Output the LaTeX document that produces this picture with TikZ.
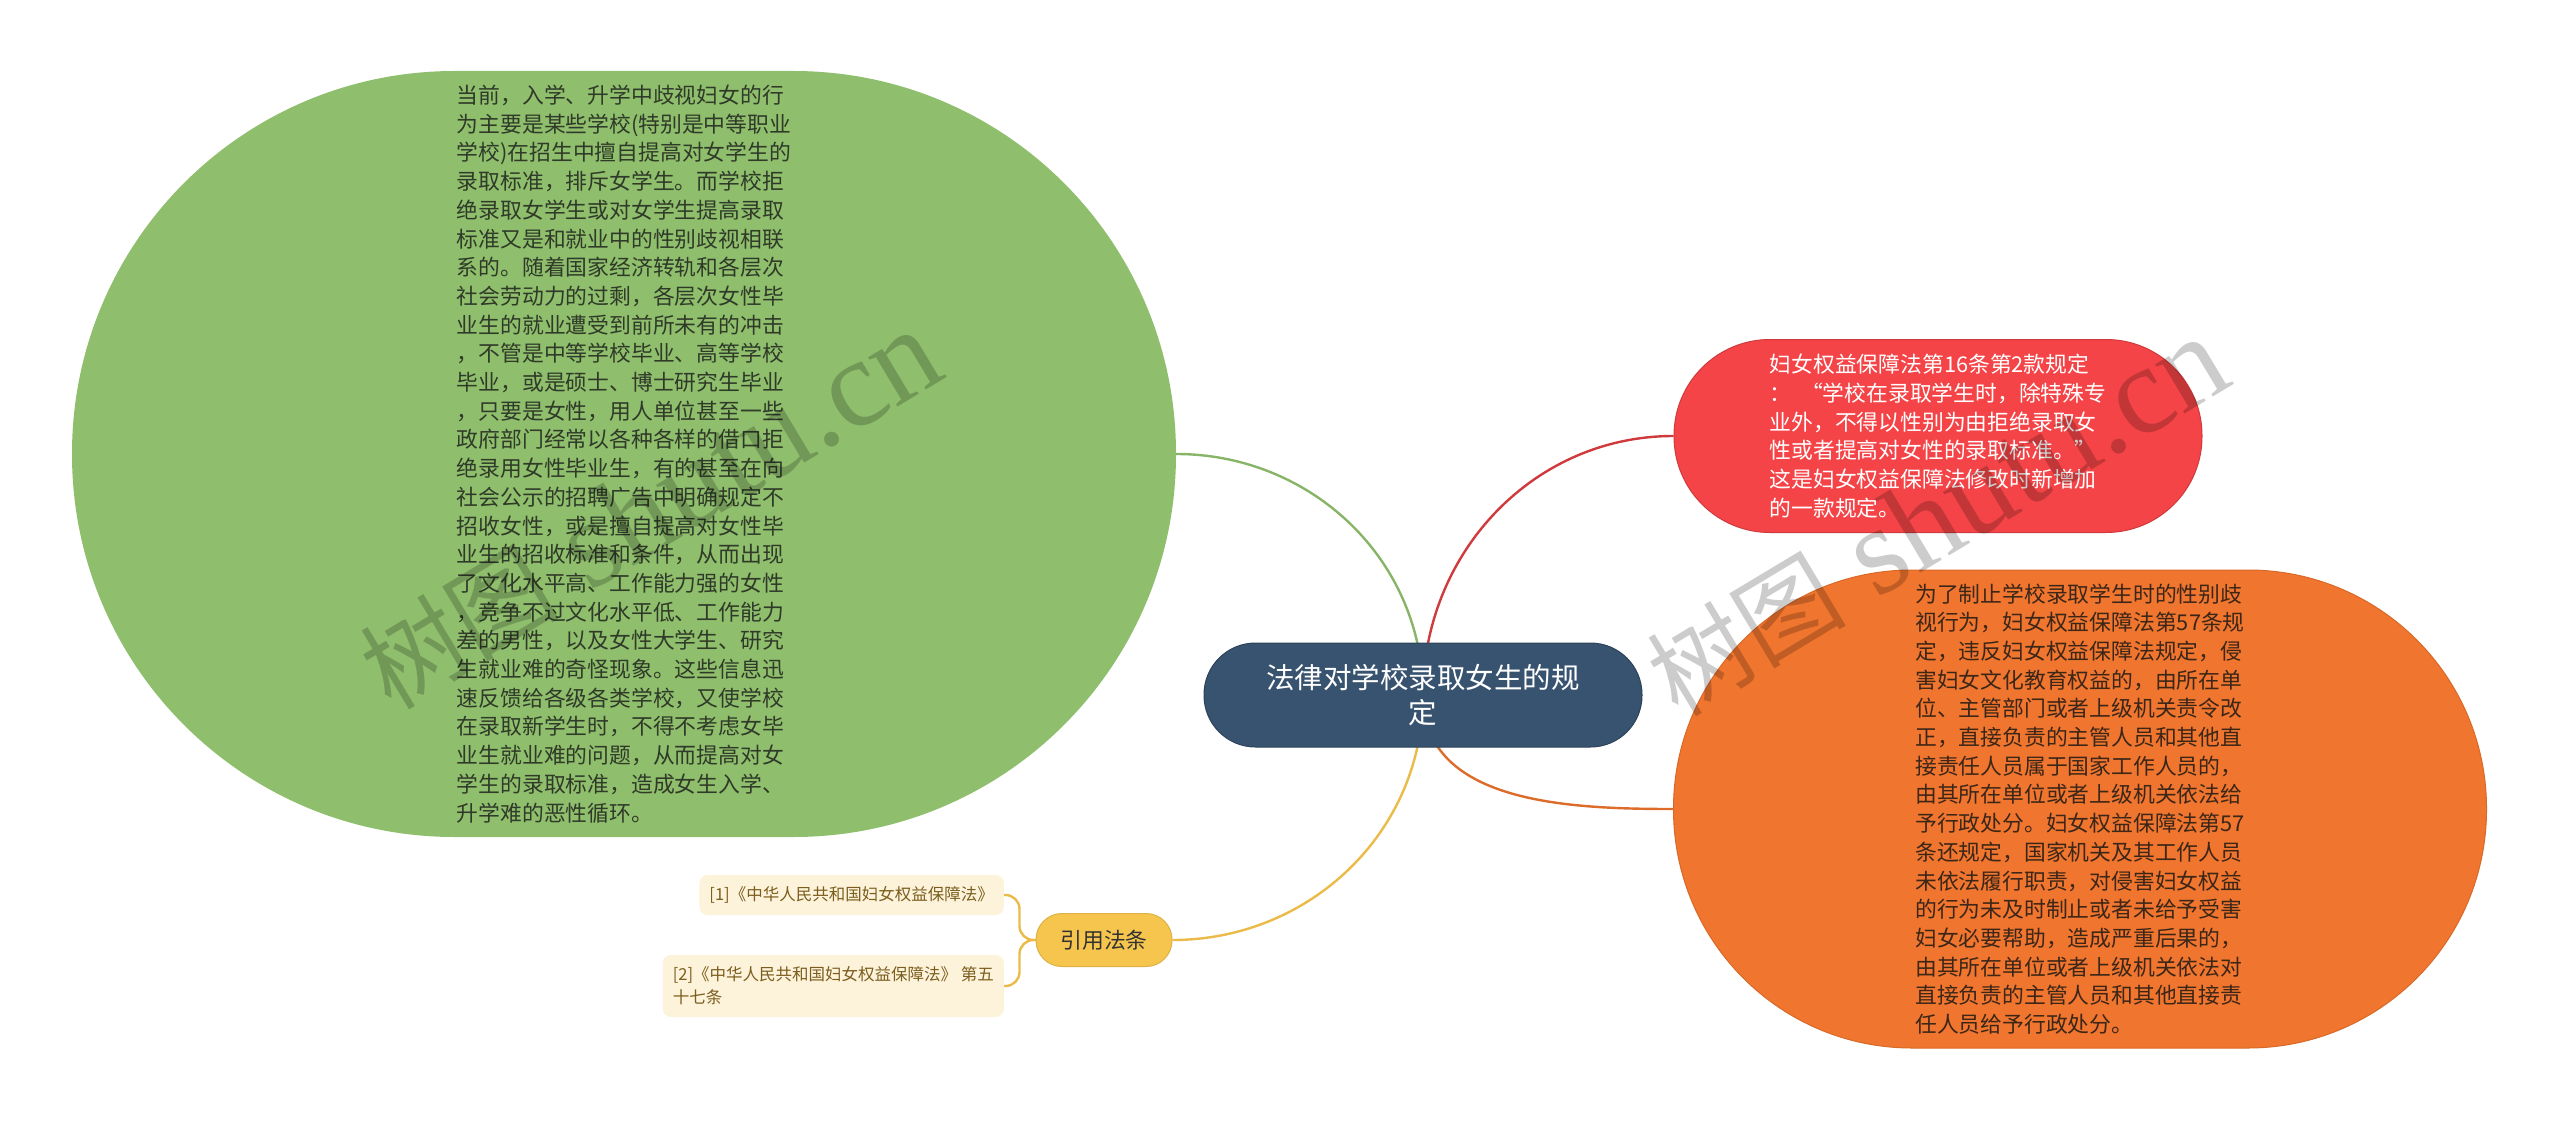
\documentclass[tikz,border=0pt]{standalone}
\usepackage{fontspec}
\setmainfont{Noto Sans CJK SC}
\newfontfamily\wmserif{Liberation Serif}
\usepackage{tikz}
\usetikzlibrary{shapes, arrows, backgrounds}
\usepackage{xcolor}

\definecolor{rootblue}{HTML}{38536F}
\definecolor{leafgreen}{HTML}{8FBE6D}
\definecolor{leafred}{HTML}{F44447}
\definecolor{leaforange}{HTML}{F0752E}
\definecolor{citeyellow}{HTML}{F6C54D}
\definecolor{refcream}{HTML}{FDF2DA}
\definecolor{greentext}{HTML}{2F3A28}
\definecolor{orangetext}{HTML}{3B2618}
\definecolor{reftext}{HTML}{7B5E1E}

\begin{document}
\begin{tikzpicture}[%
        x=1pt, y=-1pt,                          % one unit per pixel, y going down
        font=\fontsize{21.8}{28.7}\selectfont,  % body text of the topics
    ]
    \tikzset{
        base/.style={rectangle, align=left, inner sep=0pt},
        % pill has fully rounded ends: width and height as arguments
        pill/.style 2 args={base, minimum width=#1, minimum height=#2,
            rounded corners=#2/2-0.5},
        root/.style={pill={438}{104}, fill=rootblue, draw=rootblue!80!black,
            line width=1pt, text=white, align=center,
            font=\fontsize{28.5}{35}\selectfont},
        gbox/.style={pill={1104}{766}, fill=leafgreen, text=greentext},
        rbox/.style={pill={528}{193}, fill=leafred, draw=leafred!85!black,
            line width=1pt, text=white},
        obox/.style={pill={813}{478}, fill=leaforange, draw=leaforange!90!black,
            line width=1pt, text=orangetext},
        cite/.style={pill={136}{53}, fill=citeyellow, draw=citeyellow!90!black,
            line width=1pt, align=center, text=black!80},
        refbox/.style={base, anchor=east, fill=refcream, rounded corners=8,
            inner xsep=10pt, minimum height=#1, text=reftext,
            font=\fontsize{16.5}{23}\selectfont},
        % -------------------------------------------------
        % connector styles, one per branch colour
        gline/.style={draw=leafgreen!95!black, line width=2.4pt},
        rline/.style={draw=leafred!85!black, line width=2.4pt},
        oline/.style={draw=leaforange!92!black, line width=2.4pt},
        yline/.style={draw=citeyellow!95!black, line width=2.4pt},
        wmark/.style={rotate=31, text=black, text opacity=0.2, inner sep=0pt,
            font=\wmserif\fontsize{125}{125}\selectfont}
    }
    \useasboundingbox (0,0) rectangle (2560,1121);
    %%% Topics
    \node [root] (root) at (1423,695) {法律对学校录取女生的规\\定};
    \node [gbox] (green) at (624,454) {
        当前，入学、升学中歧视妇女的行\\
        为主要是某些学校(特别是中等职业\\
        学校)在招生中擅自提高对女学生的\\
        录取标准，排斥女学生。而学校拒\\
        绝录取女学生或对女学生提高录取\\
        标准又是和就业中的性别歧视相联\\
        系的。随着国家经济转轨和各层次\\
        社会劳动力的过剩，各层次女性毕\\
        业生的就业遭受到前所未有的冲击\\
        ，不管是中等学校毕业、高等学校\\
        毕业，或是硕士、博士研究生毕业\\
        ，只要是女性，用人单位甚至一些\\
        政府部门经常以各种各样的借口拒\\
        绝录用女性毕业生，有的甚至在向\\
        社会公示的招聘广告中明确规定不\\
        招收女性，或是擅自提高对女性毕\\
        业生的招收标准和条件，从而出现\\
        了文化水平高、工作能力强的女性\\
        ，竞争不过文化水平低、工作能力\\
        差的男性，以及女性大学生、研究\\
        生就业难的奇怪现象。这些信息迅\\
        速反馈给各级各类学校，又使学校\\
        在录取新学生时，不得不考虑女毕\\
        业生就业难的问题，从而提高对女\\
        学生的录取标准，造成女生入学、\\
        升学难的恶性循环。
    };
    \node [rbox] (red) at (1938,436) {
        妇女权益保障法第16条第2款规定\\
        ：~~“学校在录取学生时，除特殊专\\
        业外，不得以性别为由拒绝录取女\\
        性或者提高对女性的录取标准。”\\
        这是妇女权益保障法修改时新增加\\
        的一款规定。
    };
    \node [obox] (orange) at (2080,809) {
        为了制止学校录取学生时的性别歧\\
        视行为，妇女权益保障法第57条规\\
        定，违反妇女权益保障法规定，侵\\
        害妇女文化教育权益的，由所在单\\
        位、主管部门或者上级机关责令改\\
        正，直接负责的主管人员和其他直\\
        接责任人员属于国家工作人员的，\\
        由其所在单位或者上级机关依法给\\
        予行政处分。妇女权益保障法第57\\
        条还规定，国家机关及其工作人员\\
        未依法履行职责，对侵害妇女权益\\
        的行为未及时制止或者未给予受害\\
        妇女必要帮助，造成严重后果的，\\
        由其所在单位或者上级机关依法对\\
        直接负责的主管人员和其他直接责\\
        任人员给予行政处分。
    };
    \node [cite] (cite) at (1104,940) {引用法条};
    \node [refbox=40] (ref1) at (1004,895) {[1]《中华人民共和国妇女权益保障法》};
    \node [refbox=62] (ref2) at (1004,986) {[2]《中华人民共和国妇女权益保障法》 第五\\十七条};
    %%% Connectors
    \begin{scope}[on background layer]
        \draw [gline] (root.center) to[out=90, in=0] (green.east);
        \draw [rline] (root.center) to[out=90, in=180] (red.west);
        \draw [oline] (root.center) to[out=-90, in=180] (orange.west);
        \draw [yline] (root.center) to[out=-90, in=0] (cite.east);
        % -- citations
        \draw [yline, rounded corners=14] (cite.west) -- ++(-16,0) |- (ref1.east);
        \draw [yline, rounded corners=14] (cite.west) -- ++(-16,0) |- (ref2.east);
    \end{scope}
    %%% Watermarks
    \node [wmark] (wm1) at (650,510) {{\rmfamily\fontsize{100}{100}\selectfont 树图} shutu.cn};
    \node [wmark] (wm2) at (1937,517) {{\rmfamily\fontsize{100}{100}\selectfont 树图} shutu.cn};
\end{tikzpicture}
\end{document}
